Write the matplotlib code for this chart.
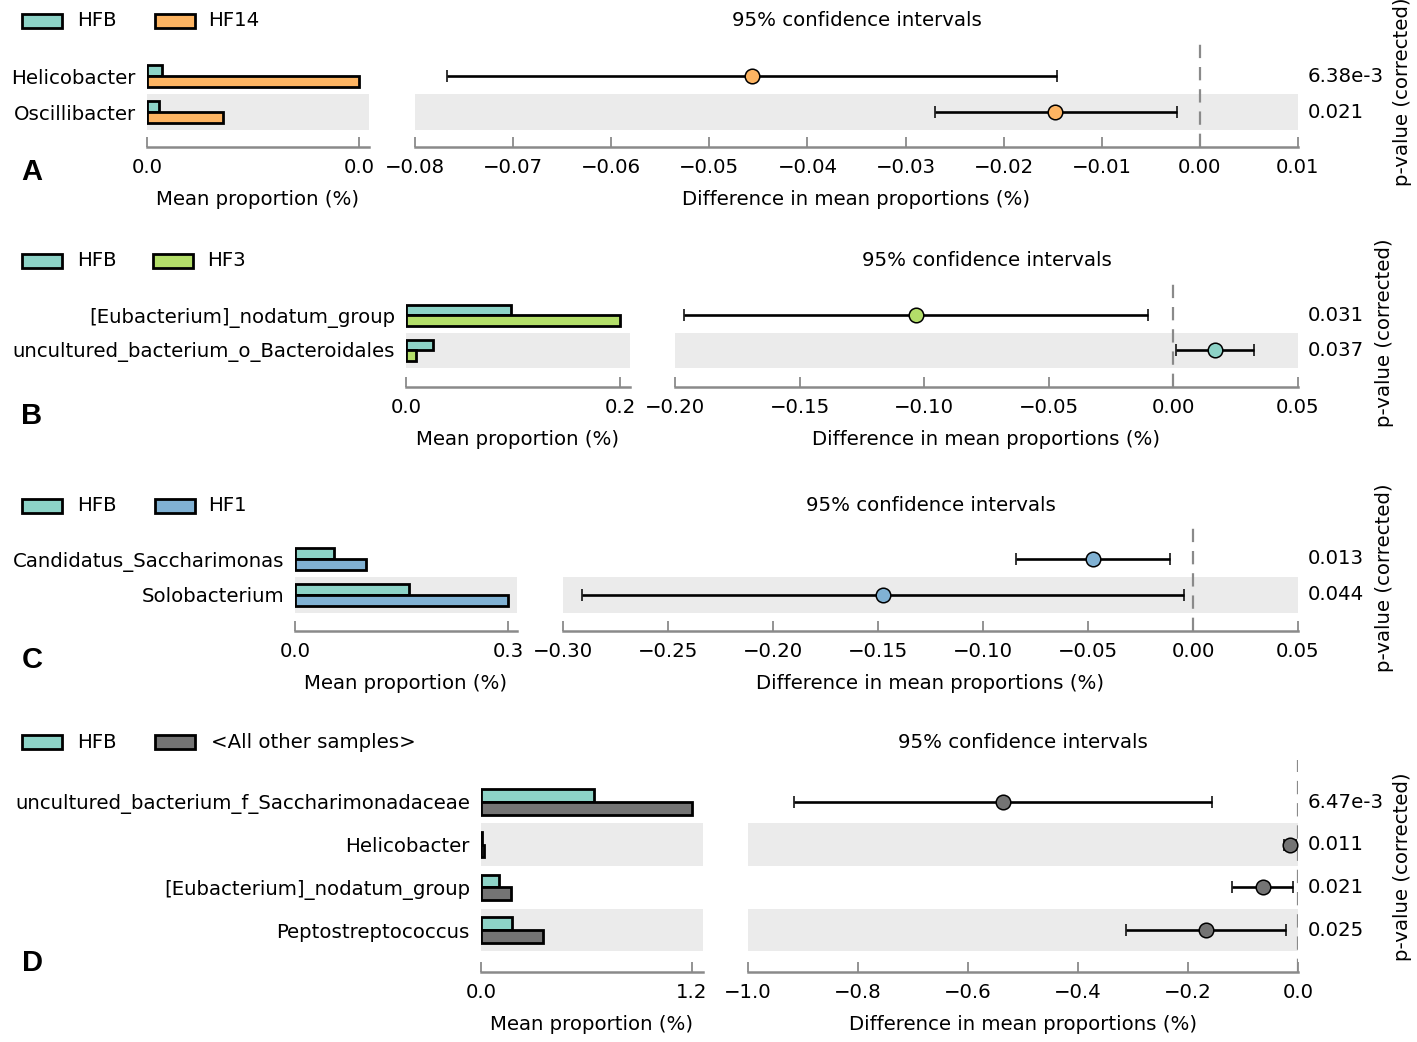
import matplotlib
matplotlib.use("Agg")
import matplotlib.pyplot as plt
from matplotlib.patches import Rectangle
import numpy as np

# ---------------- data ----------------
group1 = "HFB"

features_a = ["Helicobacter", "Oscillibacter"]
hfb_a = [0.0035, 0.0028]
grp_a = [0.049, 0.0176]
diff_a = [-0.0457, -0.0148]
lo_a = [-0.0767, -0.0270]
hi_a = [-0.0146, -0.0023]
p_a = ["6.38e-3", "0.021"]
name_a = "HF14"

features_b = ["[Eubacterium]_nodatum_group", "uncultured_bacterium_o_Bacteroidales"]
hfb_b = [0.098, 0.025]
grp_b = [0.200, 0.0093]
diff_b = [-0.1031, 0.0168]
lo_b = [-0.1962, 0.0012]
hi_b = [-0.0100, 0.0325]
p_b = ["0.031", "0.037"]
name_b = "HF3"

features_c = ["Candidatus_Saccharimonas", "Solobacterium"]
hfb_c = [0.055, 0.1606]
grp_c = [0.100, 0.300]
diff_c = [-0.0476, -0.1476]
lo_c = [-0.0843, -0.2910]
hi_c = [-0.0110, -0.0043]
p_c = ["0.013", "0.044"]
name_c = "HF1"

features_d = ["uncultured_bacterium_f_Saccharimonadaceae", "Helicobacter",
              "[Eubacterium]_nodatum_group", "Peptostreptococcus"]
hfb_d = [0.643, 0.005, 0.102, 0.176]
grp_d = [1.200, 0.017, 0.171, 0.353]
diff_d = [-0.536, -0.0145, -0.064, -0.167]
lo_d = [-0.916, -0.025, -0.120, -0.313]
hi_d = [-0.156, -0.004, -0.009, -0.022]
p_d = ["6.47e-3", "0.011", "0.021", "0.025"]
name_d = "<All other samples>"

ci_ticks_a = [-0.08, -0.07, -0.06, -0.05, -0.04, -0.03, -0.02, -0.01, 0.00, 0.01]
ci_ticks_b = [-0.20, -0.15, -0.10, -0.05, 0.00, 0.05]
ci_ticks_c = [-0.30, -0.25, -0.20, -0.15, -0.10, -0.05, 0.00, 0.05]
ci_ticks_d = [-1.0, -0.8, -0.6, -0.4, -0.2, 0.0]

# ---------------- style ----------------
C_HFB = "#8dd3c7"
C_A = "#fdb462"
C_B = "#b3de69"
C_C = "#80b1d3"
C_D = "#747474"
BAND = "#ebebeb"
SPINE = "#8a8a8a"
FS = 14.2

plt.rcParams["font.family"] = ["DejaVu Sans"]

W, H = 1417, 1042
fig = plt.figure(figsize=(W / 100, H / 100), dpi=100)


def fx(x):
    return x / W


def fy(y):
    return 1 - y / H


def make_axes(x0, x1, top, bottom):
    return fig.add_axes([fx(x0), fy(bottom), (x1 - x0) / W, (bottom - top) / H])


def style_axis(ax):
    for s in ["top", "right", "left"]:
        ax.spines[s].set_visible(False)
    ax.spines["bottom"].set_color(SPINE)
    ax.spines["bottom"].set_linewidth(1.8)
    ax.tick_params(axis="x", direction="in", length=7, width=1.3, color=SPINE,
                   labelsize=FS, pad=8)
    ax.set_facecolor("none")


def fmt(v, nd):
    s = f"{v:.{nd}f}"
    if float(s) == 0:
        s = f"{0:.{nd}f}"
    return s.replace("-", "\u2212")


def panel(features, v1, v2, diff, lo, hi, pvals, gname, gcolor, ci_ticks, nd_ci,
          bar_x, ci_x, top, bottom, rows_px, legend_y, letter_y, pl_x, pl_y,
          legend_x2, legend_tx2, letter):
    n = len(features)
    step = (rows_px[-1] - rows_px[0]) / (n - 1)
    ypos = np.arange(n)[::-1].astype(float)
    ylo = -(bottom - rows_px[-1]) / step
    yhi = (n - 1) + (rows_px[0] - top) / step

    # ---- bar axes ----
    axb = make_axes(bar_x[0], bar_x[1], top, bottom)
    style_axis(axb)
    vmax = max(max(v1), max(v2))
    axb.set_xlim(0, vmax * (bar_x[1] - bar_x[0]) / (bar_x[2] - bar_x[0]))
    axb.set_ylim(ylo, yhi)
    for i, y in enumerate(ypos):
        if i % 2 == 1:
            axb.axhspan(y - 0.5, y + 0.5, color=BAND, zorder=0, lw=0)
    axb.barh(ypos + 0.15, v1, height=0.3, color=C_HFB, edgecolor="black",
             linewidth=2.0, zorder=3)
    axb.barh(ypos - 0.15, v2, height=0.3, color=gcolor, edgecolor="black",
             linewidth=2.0, zorder=3)
    axb.set_xticks([0, vmax])
    axb.set_xticklabels([fmt(0, 1), fmt(vmax, 1)])
    axb.set_yticks(ypos)
    axb.set_yticklabels(features, fontsize=FS)
    axb.tick_params(axis="y", length=0, pad=8)
    axb.set_xlabel("Mean proportion (%)", fontsize=FS, labelpad=9)

    # ---- CI axes ----
    axc = make_axes(ci_x[0], ci_x[1], top, bottom)
    style_axis(axc)
    axc.set_xlim(ci_ticks[0], ci_ticks[-1])
    axc.set_ylim(ylo, yhi)
    for i, y in enumerate(ypos):
        if i % 2 == 1:
            axc.axhspan(y - 0.5, y + 0.5, color=BAND, zorder=0, lw=0)
    axc.axvline(0, color="#8a8a8a", lw=1.6, dashes=(6, 4), zorder=1)
    for i, y in enumerate(ypos):
        c = C_HFB if diff[i] > 0 else gcolor
        axc.errorbar([diff[i]], [y],
                     xerr=[[diff[i] - lo[i]], [hi[i] - diff[i]]],
                     fmt="o", color="black", ecolor="black", elinewidth=1.9,
                     capsize=4.5, capthick=1.9, markersize=10.5,
                     markerfacecolor=c, markeredgecolor="black",
                     markeredgewidth=1.1, zorder=4)
        fig.text(fx(1308), fy(rows_px[0] + i * step), pvals[i], fontsize=FS,
                 ha="left", va="center")
    axc.set_xticks(ci_ticks)
    axc.set_xticklabels([fmt(t, nd_ci) for t in ci_ticks])
    axc.set_yticks([])
    axc.set_xlabel("Difference in mean proportions (%)", fontsize=FS, labelpad=9)
    fig.text(fx((ci_x[0] + ci_x[1]) / 2), fy(legend_y), "95% confidence intervals",
             fontsize=FS, ha="center", va="center")

    # ---- legend ----
    for (x0, tx, col, lab) in [(22, 77, C_HFB, group1),
                               (legend_x2, legend_tx2, gcolor, gname)]:
        fig.add_artist(Rectangle((fx(x0), fy(legend_y + 7)), 40 / W, 14 / H,
                                 facecolor=col, edgecolor="black", lw=2.0,
                                 transform=fig.transFigure))
        fig.text(fx(tx), fy(legend_y), lab, fontsize=FS, ha="left", va="center")

    # ---- p-value label & letter ----
    fig.text(fx(pl_x), fy(pl_y), "p-value (corrected)",
             fontsize=FS, rotation=90, ha="center", va="center")
    fig.text(fx(32), fy(letter_y), letter, fontsize=21, fontweight="bold",
             family="Liberation Sans", ha="center", va="center")


panel(features_a, hfb_a, grp_a, diff_a, lo_a, hi_a, p_a, name_a, C_A,
      ci_ticks_a, 2, (147, 369, 359), (415, 1298), 43, 147, [76, 112],
      21, 172, 1403, 92, 155, 208, "A")
panel(features_b, hfb_b, grp_b, diff_b, lo_b, hi_b, p_b, name_b, C_B,
      ci_ticks_b, 2, (406, 630, 620), (675, 1298), 282, 387, [315, 350],
      261, 416, 1385, 333, 153, 207, "B")
panel(features_c, hfb_c, grp_c, diff_c, lo_c, hi_c, p_c, name_c, C_C,
      ci_ticks_c, 2, (295, 517, 508), (563, 1298), 527, 631, [559, 595],
      506, 660, 1385, 578, 155, 208, "C")
panel(features_d, hfb_d, grp_d, diff_d, lo_d, hi_d, p_d, name_d, C_D,
      ci_ticks_d, 1, (481, 703, 692), (748, 1298), 760, 972, [802, 845, 887, 930],
      742, 963, 1403, 867, 155, 211, "D")

fig.savefig("out.png", dpi=100)
